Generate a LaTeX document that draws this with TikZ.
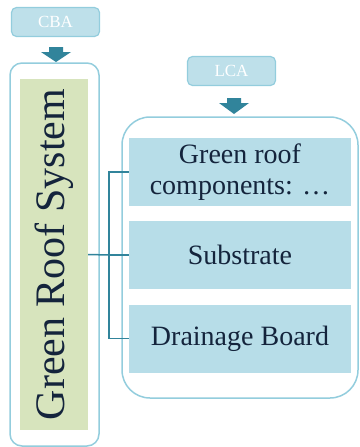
\documentclass[tikz,border=0pt]{standalone}
\usepackage{fontspec}
\setmainfont{Liberation Serif}
\usetikzlibrary{positioning}
\definecolor{frame}{HTML}{93CDDD}
\definecolor{boxfill}{HTML}{B7DDE8}
\definecolor{teal}{HTML}{31849B}
\definecolor{ink}{HTML}{14243C}
\definecolor{olive}{HTML}{D7E4BD}
\tikzset{
  tagbox/.style={draw=frame, line width=1.2pt, fill=boxfill!90, rounded corners=5pt,
    minimum width=88pt, minimum height=29pt, text=white, font=\fontsize{17}{17}\selectfont},
  frame/.style={draw=frame, line width=1.5pt, fill=white},
  part/.style={fill=boxfill, minimum width=222pt, minimum height=68pt, inner sep=0pt,
    text=ink, align=center, font=\fontsize{28}{31}\selectfont},
  conn/.style={draw=teal, line width=1.5pt}
}
\begin{document}
\begin{tikzpicture}[x=1pt, y=-1pt]
    \useasboundingbox (0,0) rectangle (359,447);
    \node[tagbox] (cba) at (55.5,22) {CBA};
    \node[tagbox] (lca) at (231.5,71) {LCA};
    \node[frame, rounded corners=12pt, minimum width=89pt, minimum height=383pt] (left) at (54.5,254.5) {};
    \node[frame, rounded corners=28pt, minimum width=236pt, minimum height=281pt] (right) at (240,257.5) {};
    \node[fill=olive, rotate=90, minimum width=351pt, minimum height=68pt, text=ink,
      font=\fontsize{42}{42}\selectfont] (grs) at (54,254.5) {Green Roof System};
    \node[part] (comp) at (240,172) {Green roof\\components: …};
    \node[part] (sub) at (240,255) {Substrate};
    \node[part] (drain) at (240,338.5) {Drainage Board};
    % block arrows
    \fill[teal] (49,47) -- (63,47) -- (63,52) -- (71,52) -- (56,62) -- (41,52) -- (49,52) -- cycle;
    \fill[teal] (227,98) -- (241,98) -- (241,103) -- (249,103) -- (234,114) -- (219,103) -- (227,103) -- cycle;
    % connectors
    \coordinate (hub) at (109,255);
    \draw[conn] (grs.south) -- (hub);
    \draw[conn] (hub) |- (comp.west);
    \draw[conn] (hub) -- (sub.west);
    \draw[conn] (hub) |- (drain.west);
\end{tikzpicture}
\end{document}
